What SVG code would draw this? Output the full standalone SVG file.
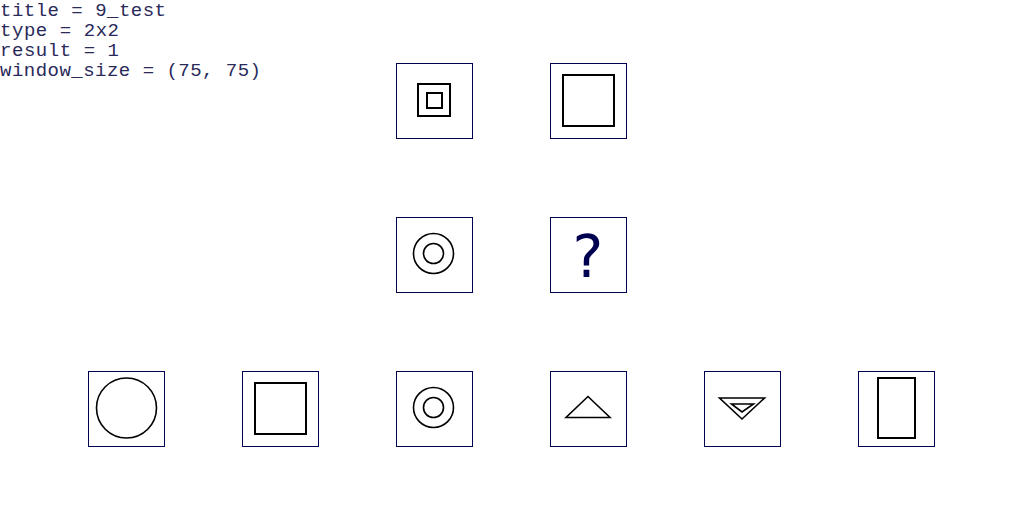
<svg xmlns="http://www.w3.org/2000/svg" width="1024" height="512" viewBox="0 0 1024 512">
<style>
.box{fill:#fff;stroke:#000050;stroke-width:1}
.sh{fill:none;stroke:#000;stroke-width:2}
.ci{fill:none;stroke:#000;stroke-width:1.6}
.lbl{font-family:"Liberation Mono","Courier New",monospace;font-size:19px;fill:#2a2a5a}
.q{font-family:"DejaVu Sans",sans-serif;font-size:58px;fill:#000050;text-anchor:middle}
</style>
<rect width="1024" height="512" fill="#fff"/>
<g id="header">
<text class="lbl" x="0" y="16" textLength="166">title = 9_test</text>
<text class="lbl" x="0" y="36" textLength="119">type = 2x2</text>
<text class="lbl" x="0" y="56" textLength="119">result = 1</text>
<text class="lbl" x="0" y="76" textLength="261">window_size = (75, 75)</text>
</g>
<g id="a1"><rect class="box" x="396.5" y="63.5" width="76" height="75"/><rect class="sh" x="418" y="84" width="32" height="32"/><rect class="sh" x="427" y="93" width="15" height="15"/></g>
<g id="a2"><rect class="box" x="550.5" y="63.5" width="76" height="75"/><rect class="sh" x="563" y="75" width="51" height="51"/></g>
<g id="b1"><rect class="box" x="396.5" y="217.5" width="76" height="75"/><circle class="ci" cx="433.5" cy="253.5" r="20"/><circle class="ci" cx="433.5" cy="253.5" r="10"/></g>
<g id="b2"><rect class="box" x="550.5" y="217.5" width="76" height="75"/><text class="q" x="588" y="277">?</text></g>
<g id="c1"><rect class="box" x="88.5" y="371.5" width="76" height="75"/><circle class="ci" cx="126.5" cy="408" r="30"/></g>
<g id="c2"><rect class="box" x="242.5" y="371.5" width="76" height="75"/><rect class="sh" x="255" y="383" width="51" height="51"/></g>
<g id="c3"><rect class="box" x="396.5" y="371.5" width="76" height="75"/><circle class="ci" cx="433.5" cy="407.5" r="20"/><circle class="ci" cx="433.5" cy="407.5" r="10"/></g>
<g id="c4"><rect class="box" x="550.5" y="371.5" width="76" height="75"/><polygon class="ci" points="588,396.5 566,417.5 610,417.5"/></g>
<g id="c5"><rect class="box" x="704.5" y="371.5" width="76" height="75"/><polygon class="ci" points="719.5,398 764.5,398 742,419"/><polygon class="ci" points="731.5,404 753.5,404 742,412"/></g>
<g id="c6"><rect class="box" x="858.5" y="371.5" width="76" height="75"/><rect class="sh" x="878" y="378" width="37" height="60"/></g>
<g id="connectors"></g>
</svg>
